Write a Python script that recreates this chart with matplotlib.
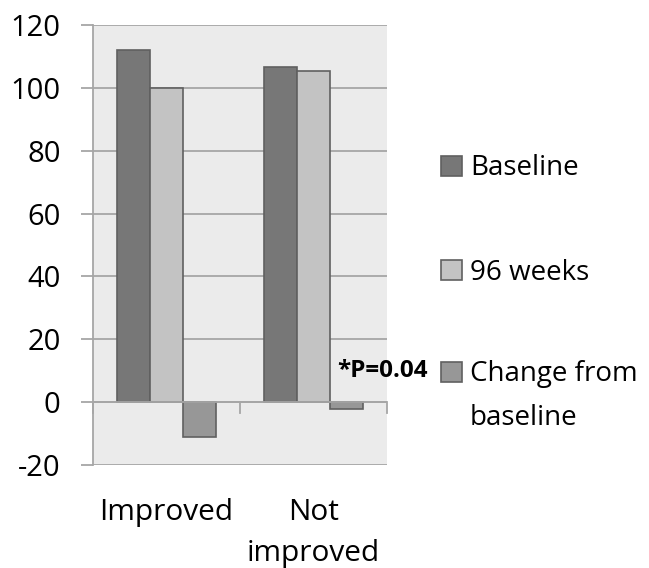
import matplotlib
matplotlib.use("Agg")
import matplotlib.pyplot as plt
import numpy as np
from matplotlib.patches import Rectangle
from matplotlib.transforms import blended_transform_factory

categories = ["Improved", "Not\nimproved"]
series_names = ["Baseline", "96 weeks", "Change from\nbaseline"]
baseline = [112.2, 106.7]
week96 = [100.0, 105.3]
change = [-11.1, -2.1]
yticks = [-20, 0, 20, 40, 60, 80, 100, 120]
p_label = "*P=0.04"

colors = ["#777777", "#c3c3c3", "#979797"]
edge = "#606060"
axis_grey = "#a6a6a6"

plt.rcParams['font.family'] = ['Open Sans', 'DejaVu Sans']

W, H = 649, 568
fig = plt.figure(figsize=(W / 100, H / 100), dpi=100)
ax = fig.add_axes([0.1428, 0.1813, 0.453, 0.7746])
ax.set_facecolor("#ebebeb")

x = np.arange(len(categories))
width = 0.225
for i, vals in enumerate([baseline, week96, change]):
    ax.bar(x + (i - 1) * width, vals, width, color=colors[i],
           edgecolor=edge, linewidth=1.2, zorder=3)

ax.set_xlim(-0.5, 1.5)
ax.set_ylim(-20, 120)
ax.set_yticks(yticks)
ax.set_yticklabels([str(t) for t in yticks], fontsize=21)
ax.yaxis.grid(True, color=axis_grey, linewidth=1.3, zorder=0)
ax.tick_params(axis='y', length=9, width=1.3, color=axis_grey, pad=14)
ax.set_xticks([])

for s in ["top", "right", "bottom"]:
    ax.spines[s].set_visible(False)
ax.spines["left"].set_color(axis_grey)
ax.spines["left"].set_linewidth(1.3)

# category axis along zero with boundary ticks
ax.axhline(0, color=axis_grey, linewidth=1.3, zorder=4)
for b in [-0.5, 0.5, 1.5]:
    ax.plot([b, b], [0, -3.3], color=axis_grey, linewidth=1.3, zorder=4,
            clip_on=False)

# category labels, one baseline per line (pixel rows from the top)
xlab_tr = blended_transform_factory(ax.transData, fig.transFigure)
cat_base = 520
cat_gap = 41.5
for xi, c in zip(x, categories):
    for k, line in enumerate(c.split("\n")):
        ax.text(xi, 1 - (cat_base + k * cat_gap) / H, line, ha="center",
                va="baseline", fontsize=21.5, transform=xlab_tr)

ax.text(1.473, 10.0, p_label, ha="center", va="center", fontsize=17.5,
        fontweight="bold", zorder=5, clip_on=False)

# legend
marker_y = [166, 270, 372]
text_base = [175, 279.5, 381.5]
line_gap = 43.5
for name, col, my, ty in zip(series_names, colors, marker_y, text_base):
    fy = 1 - my / H
    fig.add_artist(Rectangle((441 / W, fy - 10 / H), 21 / W, 20 / H,
                             facecolor=col, edgecolor=edge, linewidth=1.2,
                             transform=fig.transFigure))
    for k, line in enumerate(name.split("\n")):
        fig.text(470 / W, 1 - (ty + k * line_gap) / H, line,
                 ha="left", va="baseline", fontsize=20)

fig.savefig("out.png", dpi=100)
